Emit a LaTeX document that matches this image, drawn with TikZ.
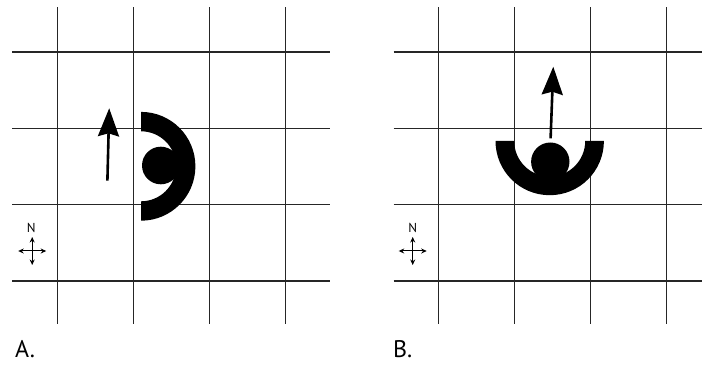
\documentclass[tikz,border=0pt]{standalone}
\usepackage{fontspec}
\setmainfont{PT Sans}
\usetikzlibrary{arrows.meta, calc}

\begin{document}
\begin{tikzpicture}[x=1pt, y=-1pt,
  gridline/.style={line width=1.2pt, black!85},
  bodyfill/.style={fill=black},
  heading/.style={-{Stealth[length=28pt, width=21pt, inset=3pt]}, line width=2.6pt},
  compass/.style={{Stealth[length=5.5pt, width=5pt]}-{Stealth[length=5.5pt, width=5pt]}, line width=1pt},
  northmark/.style={font=\fontsize{13}{13}\selectfont, inner sep=0pt},
  panel/.style={font=\fontsize{24}{24}\selectfont, inner sep=0pt, anchor=base west}
]
  \useasboundingbox (0,0) rectangle (702,374);

  % Panel A grid
  \foreach \gx in {57.3, 133.4, 209.5, 285.6}
    \draw[gridline] (\gx,7.3) -- (\gx,324);
  \foreach \gy in {52, 128.3, 204.7, 281}
    \draw[gridline] (12,\gy) -- (330,\gy);

  % Panel B grid
  \foreach \gx in {438.2, 514.3, 590.4, 666.5}
    \draw[gridline] (\gx,7.3) -- (\gx,324);
  \foreach \gy in {52, 128.3, 204.7, 281}
    \draw[gridline] (393.5,\gy) -- (702,\gy);

  % Panel A figure, facing east
  \coordinate (ringA) at (141,166.3);
  \coordinate (headA) at (160.8,165.5);
  \fill[bodyfill] ($(ringA)+(-90:54.4)$) arc[start angle=-90, end angle=90, radius=54.4]
    -- ($(ringA)+(90:35)$) arc[start angle=90, end angle=-90, radius=35] -- cycle;
  \fill[bodyfill] (headA) circle[radius=18.8];
  \coordinate (tailA) at (107.4,180.7);
  \coordinate (tipA) at (109.2,108.3);
  \draw[heading] (tailA) -- (tipA);

  % Panel B figure, facing north
  \coordinate (ringB) at (549.7,141);
  \coordinate (headB) at (550.3,161.7);
  \fill[bodyfill] ($(ringB)+(0:54.2)$) arc[start angle=0, end angle=180, radius=54.2]
    -- ($(ringB)+(180:35.5)$) arc[start angle=180, end angle=0, radius=35.5] -- cycle;
  \fill[bodyfill] (headB) circle[radius=19.2];
  \coordinate (tailB) at (550.6,138.3);
  \coordinate (tipB) at (553.3,66.7);
  \draw[heading] (tailB) -- (tipB);

  % Compass roses
  \node[northmark] (nA) at (31.3,228.3) {N};
  \coordinate (compA) at (32.2,251);
  \draw[compass] ($(compA)+(-14,0)$) -- ($(compA)+(14,0)$);
  \draw[compass] ($(compA)+(0,-14)$) -- ($(compA)+(0,14)$);

  \node[northmark] (nB) at (412.7,228.3) {N};
  \coordinate (compB) at (412.7,251);
  \draw[compass] ($(compB)+(-14,0)$) -- ($(compB)+(14,0)$);
  \draw[compass] ($(compB)+(0,-14)$) -- ($(compB)+(0,14)$);

  % Panel labels
  \node[panel] (labA) at (15,357.3) {A.};
  \node[panel] (labB) at (393,357.3) {B.};
\end{tikzpicture}
\end{document}
